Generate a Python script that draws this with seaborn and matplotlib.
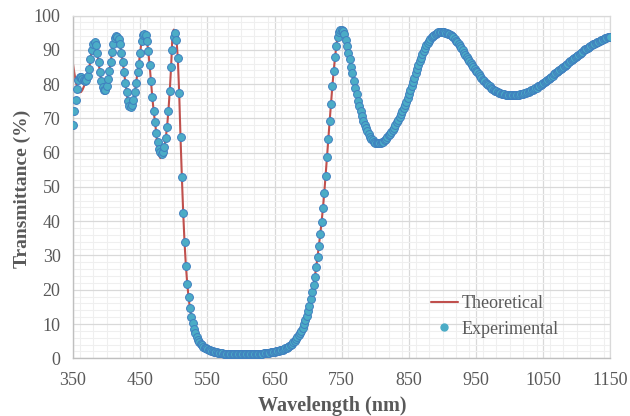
import matplotlib
matplotlib.use("Agg")
import matplotlib.pyplot as plt
from matplotlib.ticker import MultipleLocator
from matplotlib.lines import Line2D
import numpy as np
import pandas as pd
import seaborn as sns

# Measured spectrum, 2 nm steps from 350 to 1150 nm
wl_start, wl_stop, wl_step = 350, 1150, 2
experimental = [
    68.0, 72.1, 75.3, 78.6, 81.2, 82.2, 82.0, 81.5, 81.1, 80.9,   # 350-368
    81.1, 82.4, 84.4, 87.2, 90.0, 91.8, 92.3, 91.3, 89.2, 86.3,   # 370-388
    83.4, 80.9, 79.2, 78.3, 78.3, 79.5, 81.4, 83.8, 86.5, 89.3,   # 390-408
    91.8, 93.5, 94.0, 93.6, 93.2, 91.6, 89.0, 86.5, 83.4, 80.3,   # 410-428
    77.6, 75.2, 73.7, 73.2, 73.8, 75.3, 77.6, 80.4, 83.5, 86.0,   # 430-448
    89.2, 92.5, 94.2, 94.6, 94.2, 92.6, 89.6, 85.6, 80.8, 76.2,   # 450-468
    72.2, 68.8, 65.6, 63.0, 61.2, 60.2, 59.7, 60.2, 61.6, 64.2,   # 470-488
    67.6, 72.2, 78.0, 85.0, 90.0, 93.6, 95.0, 93.0, 87.5, 77.5,   # 490-508
    64.5, 53.0, 42.5, 33.8, 27.0, 21.8, 17.8, 14.6, 12.1, 10.2,   # 510-528
    8.6, 7.3, 6.2, 5.4, 4.7, 4.2, 3.8, 3.4, 3.1, 2.9,             # 530-548
    2.7, 2.5, 2.3, 2.2, 2.0, 1.9, 1.8, 1.7, 1.65, 1.6,            # 550-568
    1.5, 1.45, 1.4, 1.35, 1.3, 1.3, 1.25, 1.25, 1.2, 1.2,         # 570-588
    1.2, 1.2, 1.2, 1.2, 1.2, 1.2, 1.2, 1.2, 1.2, 1.2,             # 590-608
    1.2, 1.2, 1.2, 1.25, 1.25, 1.25, 1.3, 1.3, 1.35, 1.35,        # 610-628
    1.4, 1.4, 1.45, 1.5, 1.55, 1.6, 1.65, 1.7, 1.8, 1.85,         # 630-648
    1.9, 2.0, 2.1, 2.2, 2.3, 2.4, 2.55, 2.7, 2.9, 3.1,            # 650-668
    3.4, 3.7, 4.0, 4.3, 4.7, 5.1, 5.6, 6.2, 6.8, 7.4,             # 670-688
    8.1, 8.9, 10.0, 11.2, 12.4, 13.8, 15.4, 17.2, 19.2, 21.4,     # 690-708
    23.8, 26.6, 29.6, 32.8, 36.2, 39.8, 43.8, 48.3, 53.3, 58.6,   # 710-728
    64.0, 69.2, 74.3, 79.3, 83.8, 87.8, 91.2, 93.8, 95.3, 95.9,   # 730-748
    95.9, 95.4, 94.5, 93.0, 91.2, 89.2, 87.2, 85.1, 83.1, 81.0,   # 750-768
    79.0, 77.0, 75.2, 73.5, 72.0, 70.6, 69.3, 68.1, 67.1, 66.2,   # 770-788
    65.4, 64.7, 64.1, 63.6, 63.2, 62.9, 62.8, 62.7, 62.7, 62.8,   # 790-808
    63.0, 63.2, 63.6, 64.0, 64.5, 65.0, 65.5, 66.0, 66.5, 67.2,   # 810-828
    68.0, 68.8, 69.6, 70.4, 71.2, 72.0, 72.9, 73.8, 74.8, 75.9,   # 830-848
    77.0, 78.2, 79.4, 80.6, 81.9, 83.1, 84.3, 85.5, 86.6, 87.7,   # 850-868
    88.7, 89.6, 90.5, 91.3, 92.0, 92.6, 93.2, 93.7, 94.1, 94.4,   # 870-888
    94.7, 94.9, 95.1, 95.2, 95.2, 95.2, 95.1, 95.0, 94.9, 94.7,   # 890-908
    94.5, 94.3, 94.0, 93.6, 93.2, 92.7, 92.2, 91.6, 91.0, 90.4,   # 910-928
    89.8, 89.2, 88.6, 88.0, 87.4, 86.8, 86.2, 85.6, 85.0, 84.5,   # 930-948
    83.9, 83.4, 82.8, 82.3, 81.8, 81.3, 80.8, 80.4, 80.0, 79.6,   # 950-968
    79.3, 78.9, 78.6, 78.3, 78.1, 77.9, 77.7, 77.5, 77.3, 77.2,   # 970-988
    77.1, 77.0, 76.9, 76.8, 76.8, 76.7, 76.7, 76.7, 76.7, 76.7,   # 990-1008
    76.8, 76.8, 76.9, 77.0, 77.1, 77.2, 77.3, 77.5, 77.6, 77.8,   # 1010-1028
    78.0, 78.2, 78.4, 78.6, 78.8, 79.0, 79.3, 79.5, 79.8, 80.0,   # 1030-1048
    80.3, 80.6, 80.9, 81.2, 81.5, 81.8, 82.1, 82.4, 82.8, 83.1,   # 1050-1068
    83.4, 83.7, 84.1, 84.4, 84.7, 85.0, 85.4, 85.7, 86.0, 86.4,   # 1070-1088
    86.7, 87.0, 87.4, 87.7, 88.0, 88.3, 88.6, 88.9, 89.2, 89.5,   # 1090-1108
    89.8, 90.1, 90.3, 90.6, 90.9, 91.1, 91.4, 91.6, 91.8, 92.0,   # 1110-1128
    92.2, 92.4, 92.6, 92.8, 93.0, 93.1, 93.3, 93.4, 93.6, 93.7,   # 1130-1148
    93.8,                                                         # 1150
]

# Simulated spectrum: follows the measurement except where it departs from it
theory_wl = [350, 352, 354, 356, 358, 360, 362, 364, 366, 368, 370,
             394, 396, 398, 432, 434, 436, 476, 478, 480, 482, 484, 498, 500, 502]
theory_t = [85.8, 83.2, 80.9, 79.1, 78.0, 77.6, 77.7, 78.3, 79.2, 80.3, 81.4,
            78.8, 77.5, 77.6, 73.3, 72.7, 73.3, 60.6, 59.2, 58.4, 59.0, 60.8, 94.2, 95.9, 93.6]

x_ticks = [350, 450, 550, 650, 750, 850, 950, 1050, 1150]
y_ticks = [0, 10, 20, 30, 40, 50, 60, 70, 80, 90, 100]

wavelength = np.arange(wl_start, wl_stop + 1, wl_step)
theoretical = pd.Series(experimental, index=wavelength, dtype=float)
theoretical.loc[theory_wl] = theory_t

df = pd.DataFrame({
    "Wavelength": wavelength,
    "Experimental": experimental,
    "Theoretical": theoretical.values,
})

sns.set_theme(style="white")
plt.rcParams["font.family"] = ["Liberation Serif", "DejaVu Serif"]

fig = plt.figure(figsize=(6.3, 4.16), dpi=100)
ax = fig.add_axes([0.1159, 0.1387, 0.969 - 0.1159, 0.9627 - 0.1387])

line_color = "#c0504d"
dot_face = "#4bacc6"
dot_edge = "#3f7fbf"
text_color = "#595959"

sns.lineplot(data=df, x="Wavelength", y="Theoretical", ax=ax, color=line_color,
             linewidth=1.5, zorder=2, legend=False)
sns.scatterplot(data=df, x="Wavelength", y="Experimental", ax=ax, color=dot_face,
                edgecolor=dot_edge, linewidth=0.7, s=32, zorder=3, legend=False)

ax.set_xlim(x_ticks[0], x_ticks[-1])
ax.set_ylim(y_ticks[0], y_ticks[-1])
ax.set_xticks(x_ticks)
ax.set_yticks(y_ticks)
ax.xaxis.set_minor_locator(MultipleLocator(20))
ax.yaxis.set_minor_locator(MultipleLocator(2))
ax.grid(which="major", color="#d9d9d9", linewidth=0.9, zorder=0)
ax.grid(which="minor", color="#efefef", linewidth=0.8, zorder=0)
ax.set_axisbelow(True)
ax.tick_params(axis="x", which="both", length=0, labelsize=13,
               labelcolor=text_color, pad=10)
ax.tick_params(axis="y", which="both", length=0, labelsize=13,
               labelcolor=text_color, pad=9)

for side in ["top", "right"]:
    ax.spines[side].set_color("#d9d9d9")
    ax.spines[side].set_linewidth(0.9)
for side in ["left", "bottom"]:
    ax.spines[side].set_color("#bfbfbf")
    ax.spines[side].set_linewidth(1.0)

xlab = ax.set_xlabel("Wavelength (nm)", fontsize=14.5, fontweight="bold",
                     color=text_color)
xlab.set_verticalalignment("baseline")
ax.xaxis.set_label_coords(0.482, -0.153)
ax.set_ylabel("Transmittance (%)", fontsize=14, fontweight="bold",
              color=text_color)
ax.yaxis.set_label_coords(-0.078, 0.495)

handles = [
    Line2D([], [], color=line_color, linewidth=1.5),
    Line2D([], [], linestyle="none", marker="o", markersize=5,
           markerfacecolor=dot_face, markeredgecolor=dot_face),
]
ax.legend(handles, ["Theoretical", "Experimental"], loc="center left",
          bbox_to_anchor=(0.635, 0.122), frameon=False, fontsize=13,
          labelcolor=text_color, handlelength=1.5, handletextpad=0.2,
          labelspacing=0.45)

fig.savefig("out.png", dpi=100)
